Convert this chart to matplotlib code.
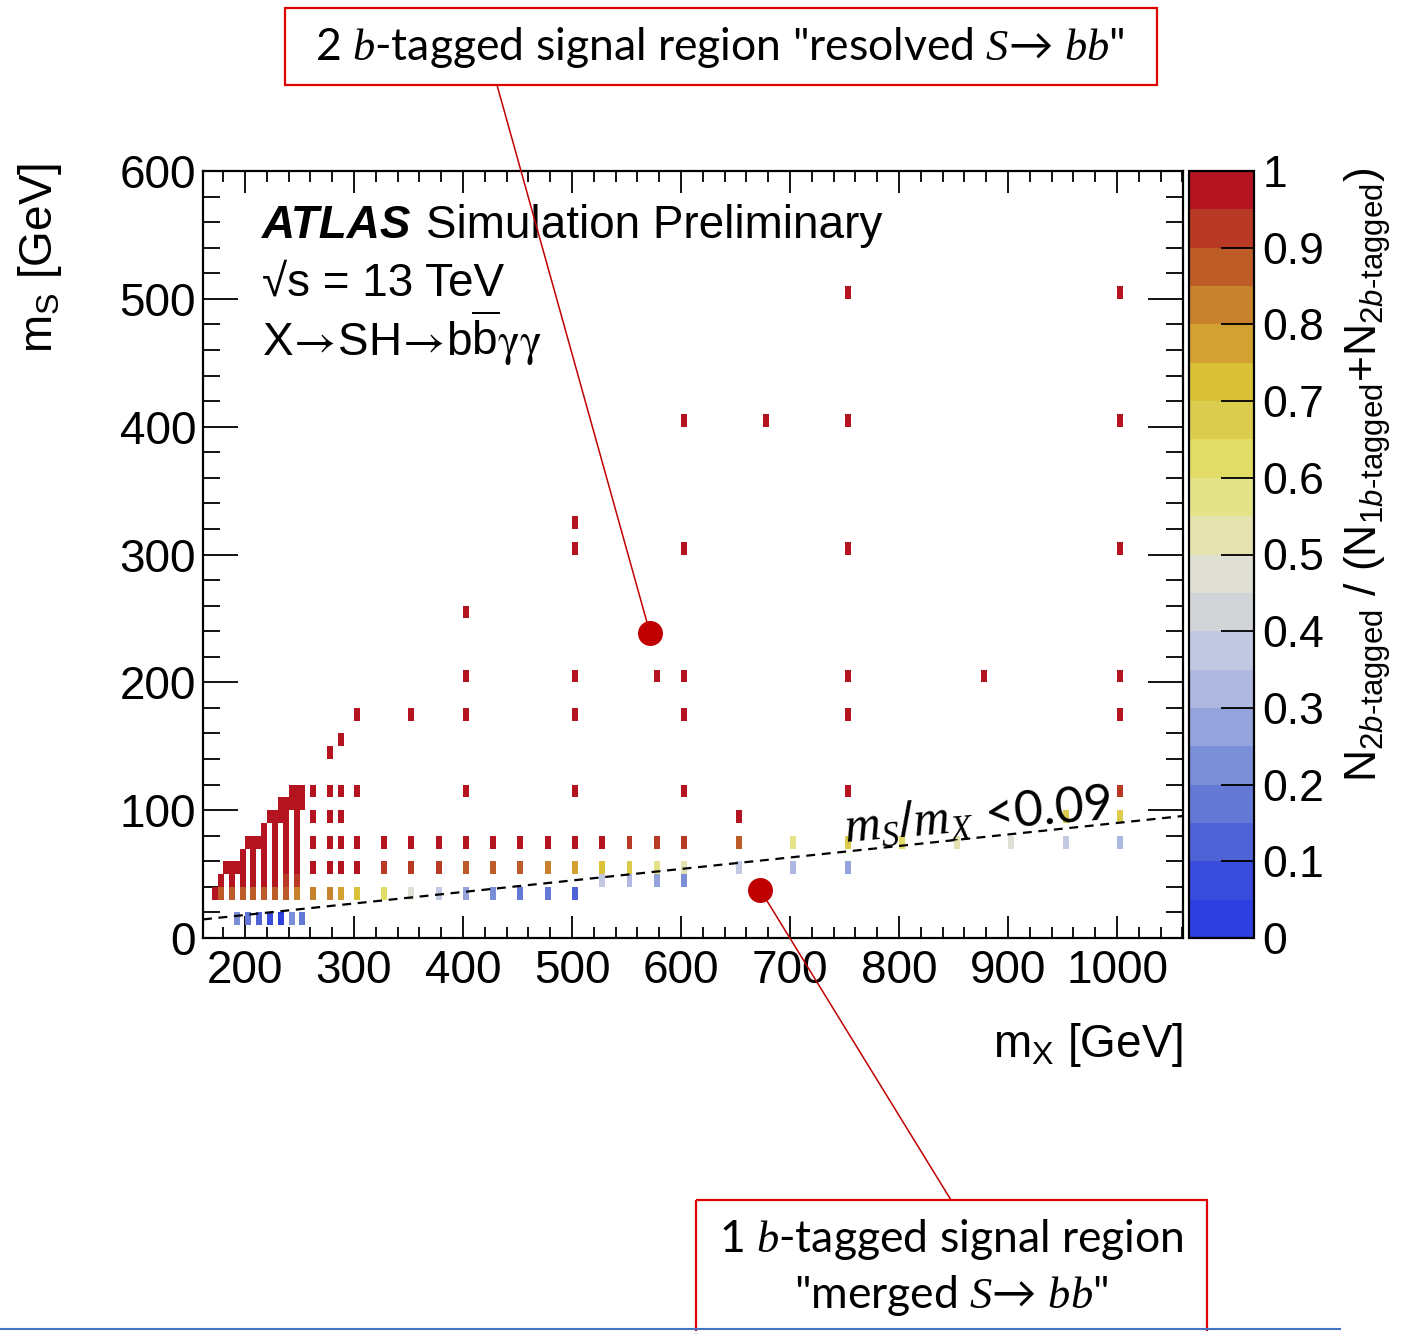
import numpy as np
import matplotlib
matplotlib.use('Agg')
import matplotlib.pyplot as plt
from matplotlib.colors import ListedColormap, BoundaryNorm
from matplotlib.patches import Rectangle
from matplotlib.ticker import MultipleLocator
import matplotlib.cm as cm

plt.rcParams['font.family'] = ['Liberation Sans', 'DejaVu Sans']
plt.rcParams['mathtext.fontset'] = 'custom'
plt.rcParams['mathtext.rm'] = 'Liberation Sans'
plt.rcParams['mathtext.sf'] = 'Liberation Sans'
plt.rcParams['mathtext.it'] = 'Liberation Sans:italic'
plt.rcParams['mathtext.bf'] = 'Liberation Sans:bold'
plt.rcParams['mathtext.cal'] = 'Liberation Serif:italic'
plt.rcParams['mathtext.tt'] = 'STIXGeneral'

# signal grid: one mX per column, the mS cells and their 2b fraction
mx_cols = [170, 175, 180, 185, 190, 195, 200, 205, 210, 215, 220, 225, 230, 235,
           240, 245, 250, 260, 275, 285, 300, 325, 350, 375, 400, 425, 450, 475,
           500, 525, 550, 575, 600, 650, 675, 700, 750, 800, 850, 875, 900, 950, 1000]
ms_cols = [
    [30], [30, 40], [50], [30, 40, 50], [15, 50], [30, 40, 50, 60], [15, 70],
    [30, 40, 50, 60, 70], [15, 70], [30, 40, 50, 60, 70, 80], [15, 90],
    [30, 40, 50, 60, 70, 80, 90], [15, 90, 100], [30, 40, 50, 60, 70, 80, 90, 100],
    [15, 100, 110], [30, 40, 50, 60, 70, 80, 90, 100, 110], [15, 100, 110],
    [30, 50, 70, 90, 110], [30, 50, 70, 90, 110, 140], [30, 50, 70, 90, 110, 150],
    [30, 50, 70, 110, 170], [30, 50, 70], [30, 50, 70, 170], [30, 50, 70],
    [30, 50, 70, 110, 170, 200, 250], [30, 50, 70], [30, 50, 70], [30, 50, 70],
    [30, 50, 70, 110, 170, 200, 300, 320], [40, 50, 70], [40, 50, 70], [40, 50, 70, 200],
    [40, 50, 70, 110, 170, 200, 300, 400], [50, 70, 90], [400], [50, 70],
    [50, 70, 110, 170, 200, 300, 400, 500], [70], [70], [200], [70], [70, 90],
    [70, 90, 110, 170, 200, 300, 400, 500],
]
frac_cols = [
    [.98], [.87, .98], [.98], [.87, .98, .98], [.22, .98], [.87, .98, .98, .98], [.17, .98],
    [.87, .98, .98, .98, .98], [.12, .98], [.87, .98, .98, .98, .98, .98], [.08, .98],
    [.87, .98, .98, .98, .98, .98, .98], [.03, .98, .98], [.87, .92, .98, .98, .98, .98, .98, .98],
    [.22, .98, .98], [.83, .92, .98, .98, .98, .98, .98, .98, .98], [.17, .98, .98],
    [.83, .98, .98, .98, .98], [.80, .98, .98, .98, .98, .98], [.78, .98, .98, .98, .98, .98],
    [.72, .98, .98, .98, .98], [.62, .92, .98], [.47, .92, .98, .98], [.37, .92, .98],
    [.27, .87, .98, .98, .98, .98, .98], [.22, .87, .98], [.17, .87, .98], [.17, .82, .98],
    [.12, .77, .98, .98, .98, .98, .98, .98], [.37, .72, .98], [.32, .67, .93], [.27, .57, .93, .98],
    [.22, .52, .93, .98, .98, .98, .98, .98], [.37, .87, .98], [.98], [.32, .57],
    [.27, .67, .98, .98, .98, .98, .98, .98], [.62], [.52], [.98], [.47], [.37, .67],
    [.32, .67, .93, .98, .98, .98, .98, .98],
]
cut_ratio = 0.09

palette = ['#2E3FE0', '#3A4CDB', '#4F62D6', '#6479D6', '#7B8FD8', '#94A3DB', '#AEB8E0',
           '#C4C9E3', '#D2D5D8', '#DFE0D3', '#E3E2B0', '#E4E38A', '#E0DC65', '#DBCC4D',
           '#D9C138', '#D3A132', '#C8822E', '#BE5C27', '#B83A25', '#B3141F']
cbar_ticks = np.arange(0, 1.01, 0.1)
cbar_labels = ['0', '0.1', '0.2', '0.3', '0.4', '0.5', '0.6', '0.7', '0.8', '0.9', '1']

W, H = 1404, 1331
fig = plt.figure(figsize=(W / 100, H / 100), dpi=100)

def fx(x):
    return x / W

def fy(y):
    return 1 - y / H

ax = fig.add_axes([fx(203), fy(938), fx(1183) - fx(203), fy(171) - fy(938)])
cax = fig.add_axes([fx(1189), fy(938), fx(1254) - fx(1189), fy(171) - fy(938)])

cmap = ListedColormap(palette)
norm = BoundaryNorm(np.linspace(0, 1, 21), cmap.N)

mx_pts = np.array([m for m, s in zip(mx_cols, ms_cols) for _ in s], dtype=float)
ms_pts = np.array([v for s in ms_cols for v in s], dtype=float)
frac_pts = np.array([v for f in frac_cols for v in f])
cell_bottom = np.floor(ms_pts / 10) * 10

ax.bar(mx_pts, 10, width=5.5, bottom=cell_bottom, align='edge',
       color=cmap(norm(frac_pts)), linewidth=0, zorder=2)

xl = np.array([161.5, 1060.5])
ax.plot(xl, cut_ratio * xl, ls=(0, (4, 3)), color='black', lw=1.6, zorder=3)
ax.text(751, 75, r'$\mathcal{m}_\mathcal{S}/\mathcal{m}_\mathcal{X}$ <0.09', fontsize=36,
        family='Lato', rotation=5, rotation_mode='anchor', ha='left', va='baseline', zorder=4)

ax.set_xlim(xl)
ax.set_ylim(0, 600)
ax.xaxis.set_major_locator(MultipleLocator(100))
ax.xaxis.set_minor_locator(MultipleLocator(20))
ax.yaxis.set_major_locator(MultipleLocator(100))
ax.yaxis.set_minor_locator(MultipleLocator(20))
ax.tick_params(which='both', direction='in', top=True, right=True, width=1.3)
ax.tick_params(axis='x', which='major', length=16, labelsize=33, pad=8)
ax.tick_params(axis='x', which='minor', length=8)
ax.tick_params(axis='y', which='major', length=25, labelsize=33, pad=5)
ax.tick_params(axis='y', which='minor', length=12)
for sp in ax.spines.values():
    sp.set_linewidth(1.6)

sm = cm.ScalarMappable(norm=norm, cmap=cmap)
cb = fig.colorbar(sm, cax=cax, ticks=cbar_ticks)
cb.set_ticklabels(cbar_labels)
cb.ax.tick_params(direction='in', length=24, width=1.3, labelsize=32, pad=6)
cb.ax.minorticks_off()
cb.outline.set_linewidth(1.6)

# axis titles, ROOT style
fig.text(fx(40), fy(163), r'm$_{\rm S}$ [GeV]', rotation=90, ha='center', va='top', fontsize=33)
fig.text(fx(1183), fy(1045), r'm$_{\rm X}$ [GeV]', ha='right', va='center', fontsize=33)
fig.text(fx(1368), fy(168),
         r'N$_{2b\text{-tagged}}$ / (N$_{1b\text{-tagged}}$+N$_{2b\text{-tagged}}$)',
         rotation=90, ha='center', va='top', fontsize=32)

# ATLAS label
fig.text(fx(262), fy(238), 'ATLAS', fontsize=33, fontweight='bold', style='italic', va='baseline')
fig.text(fx(426), fy(238), 'Simulation Preliminary', fontsize=33, va='baseline')
fig.text(fx(262), fy(296), '√s = 13 TeV', fontsize=33, va='baseline')
fig.text(fx(262), fy(356),
         r'X$\!\mathtt{\rightarrow}\!$SH$\!\mathtt{\rightarrow}\!$b$\overline{\rm b}\mathtt{\gamma\gamma}$',
         fontsize=33, va='baseline')

# annotation layer in pixel coordinates
ov = fig.add_axes([0, 0, 1, 1], zorder=10)
ov.set_xlim(0, W)
ov.set_ylim(H, 0)
ov.axis('off')
ov.patch.set_alpha(0)

red = '#E00000'
dark_red = '#C00000'
ov.add_patch(Rectangle((285, 8), 872, 77, fill=False, edgecolor=red, lw=1.6))
ov.add_patch(Rectangle((696, 1200), 511, 160, fill=False, edgecolor=red, lw=1.6, clip_on=False))
ov.plot([497, 648], [85, 626], color=dark_red, lw=1.1)
ov.plot([951, 764], [1200, 896], color=dark_red, lw=1.1)
ov.plot([650], [633], 'o', ms=18, color=dark_red, mec='none')
ov.plot([760], [890], 'o', ms=18, color=dark_red, mec='none')
ov.plot([0, 1340], [1329, 1329], color='#4472C4', lw=1.5)

ov.text(720, 47, r'2 $\mathcal{b}$-tagged signal region "resolved $\mathcal{S}$→ $\mathcal{bb}$"',
        fontsize=32, family='Lato', ha='center', va='center')
ov.text(951, 1240, r'1 $\mathcal{b}$-tagged signal region', fontsize=32, family='Lato',
        ha='center', va='center')
ov.text(951, 1296, r'"merged $\mathcal{S}$→ $\mathcal{bb}$"', fontsize=32, family='Lato',
        ha='center', va='center')

fig.savefig('out.png', dpi=100)
